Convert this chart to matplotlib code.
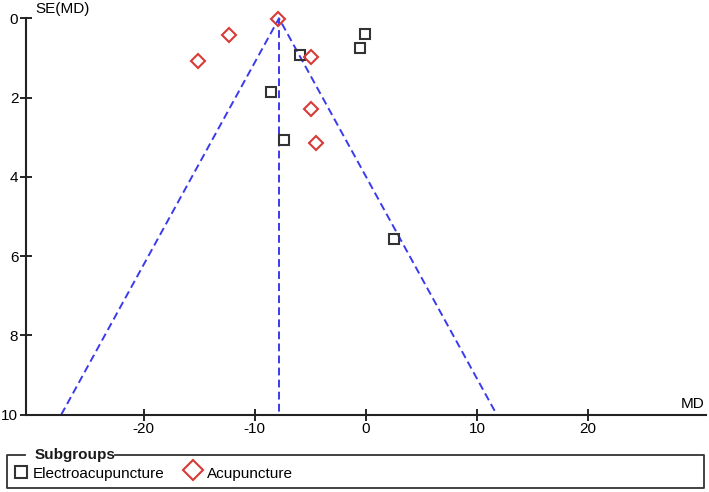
import numpy as np
import matplotlib
matplotlib.use("Agg")
from matplotlib import pyplot as plt

# study estimates
electro_md = np.array([-0.1, -0.55, -5.9, -8.55, -7.4, 2.55])
electro_se = np.array([0.40, 0.74, 0.93, 1.86, 3.08, 5.58])
acu_md = np.array([-7.95, -12.35, -15.15, -4.9, -4.95, -4.5])
acu_se = np.array([0.02, 0.42, 1.08, 0.98, 2.28, 3.14])
pooled_md = -7.82
se_max = 10
x_ticks = [-20, -10, 0, 10, 20]
y_ticks = [0, 2, 4, 6, 8, 10]

plt.rcParams['font.family'] = ['Liberation Sans', 'DejaVu Sans']
fs = 11

fig = plt.figure(figsize=(7.09, 4.92), dpi=100)
ax = fig.add_axes([26 / 709, 1 - 414.5 / 492, (705.7 - 26) / 709, (414.5 - 18.3) / 492])

# funnel lines
blue = '#3a3aee'
ax.plot([pooled_md - 1.96 * se_max, pooled_md, pooled_md + 1.96 * se_max], [se_max, 0, se_max],
        color=blue, lw=1.4, dashes=(4, 2.2), zorder=1, clip_on=False)
ax.plot([pooled_md, pooled_md], [0, se_max], color=blue, lw=1.4, dashes=(4, 2.2), zorder=1)

ax.plot(electro_md, electro_se, 's', ms=7.8, mfc='none', mec='#333333', mew=1.5, zorder=3, clip_on=False)
ax.plot(acu_md, acu_se, 'D', ms=7.0, mfc='none', mec='#d93a36', mew=1.5, zorder=3, clip_on=False)

ax.set_xlim(-30.6, 30.6)
ax.set_ylim(se_max, 0)
ax.set_xticks(x_ticks)
ax.set_yticks(y_ticks)
ax.set_xticklabels([str(v) for v in x_ticks])
ax.set_yticklabels([str(v) for v in y_ticks])
ax.tick_params(direction='inout', length=9, width=1.2, colors='black', labelsize=fs, pad=1)
for side in ['top', 'right']:
    ax.spines[side].set_visible(False)
for side in ['left', 'bottom']:
    ax.spines[side].set_linewidth(1.5)
    ax.spines[side].set_color('#222222')

fig.text(35 / 709, 1 - 9 / 492, 'SE(MD)', ha='left', va='center', fontsize=fs)
fig.text(705 / 709, 1 - 404 / 492, 'MD', ha='right', va='center', fontsize=fs)

# legend box drawn by hand so the title sits on the border
lg = fig.add_axes([0, 0, 1, 1], zorder=-1)
lg.set_xlim(0, 709)
lg.set_ylim(492, 0)
lg.axis('off')
bx0, bx1, by0, by1 = 7, 704, 454.5, 487.5
lg.plot([25, bx0, bx0, bx1, bx1, 115], [by0, by0, by1, by1, by0, by0], color='#333333', lw=1.3)
lg.text(35, by0 + 0.5, 'Subgroups', fontweight='bold', ha='left', va='center', fontsize=fs, color='#1a1a1a')
lg.plot([21], [472], 's', ms=8, mfc='none', mec='#333333', mew=1.5)
lg.text(33, 474, 'Electroacupuncture', ha='left', va='center', fontsize=fs)
lg.plot([192.7], [469.5], 'D', ms=10.3, mfc='none', mec='#d93a36', mew=1.5)
lg.text(207, 474, 'Acupuncture', ha='left', va='center', fontsize=fs)

fig.savefig('out.png', dpi=100)
